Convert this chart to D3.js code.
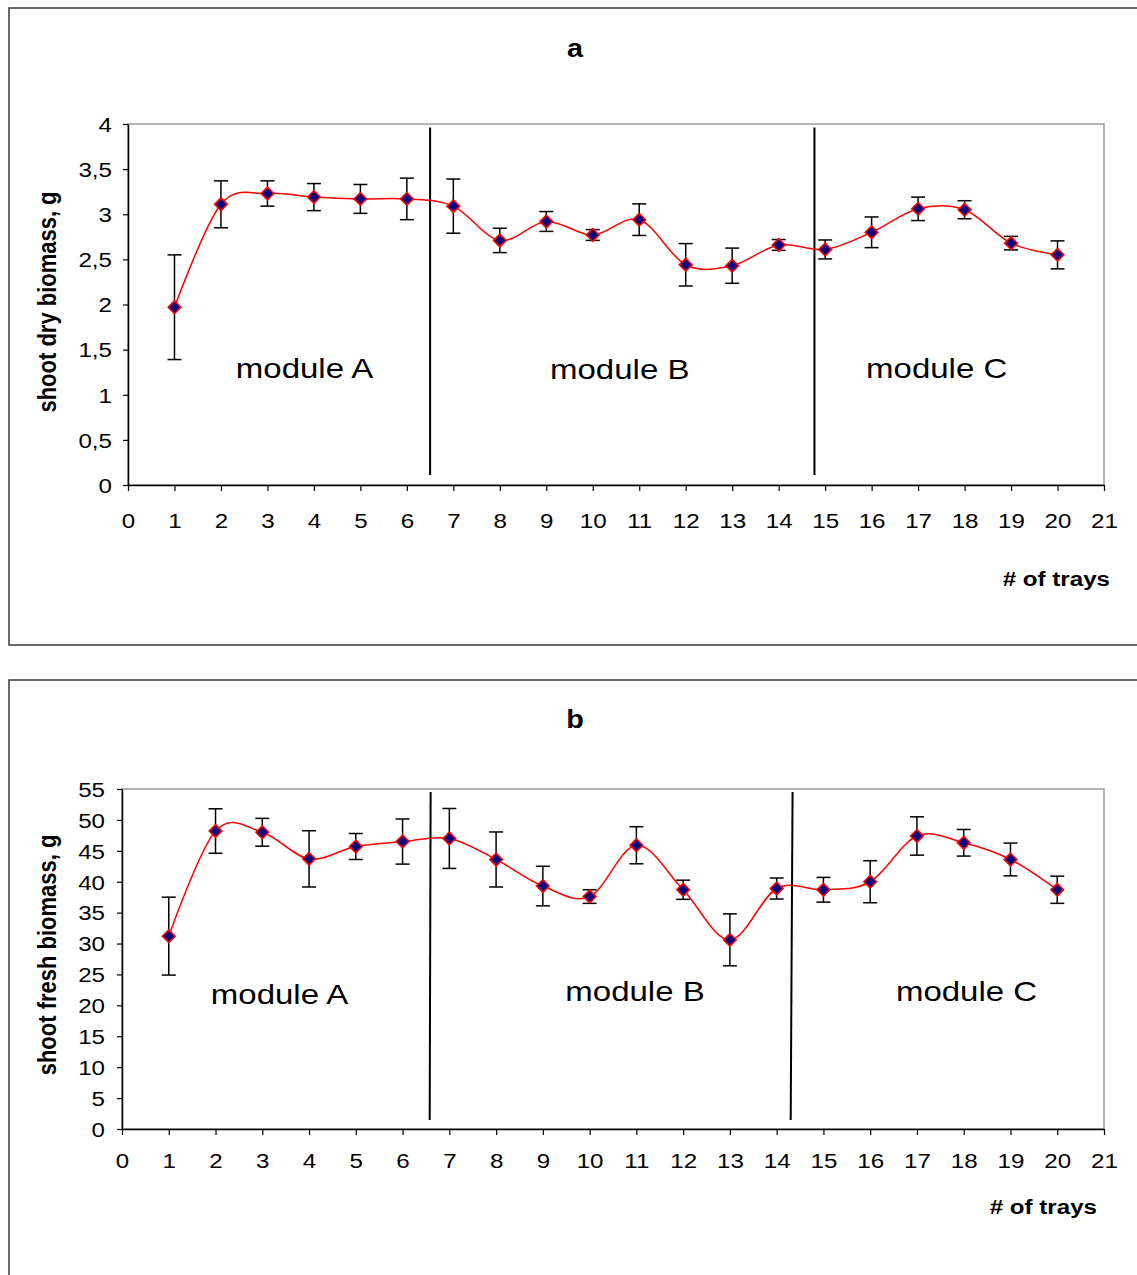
<!DOCTYPE html>
<html>
<head>
<meta charset="utf-8">
<script src="https://cdn.jsdelivr.net/npm/d3@7"></script>
<style>
  html, body { margin: 0; padding: 0; background: #fff; }
  svg { display: block; font-family: "Liberation Sans", Arial, sans-serif; }
</style>
</head>
<body>
<svg id="chart" width="1137" height="1275"></svg>
<script>
// ---- data -------------------------------------------------------------
const trays = [1, 2, 3, 4, 5, 6, 7, 8, 9, 10, 11, 12, 13, 14, 15, 16, 17, 18, 19, 20];

// shoot dry biomass (g): mean and error
const dryMean = [1.97, 3.11, 3.23, 3.19, 3.17, 3.17, 3.09, 2.71, 2.92, 2.77,
                 2.94, 2.44, 2.43, 2.66, 2.61, 2.80, 3.06, 3.05, 2.68, 2.55];
const dryErr  = [0.58, 0.26, 0.14, 0.15, 0.16, 0.23, 0.30, 0.135, 0.11, 0.06,
                 0.175, 0.235, 0.195, 0.06, 0.105, 0.17, 0.13, 0.10, 0.075, 0.155];

// shoot fresh biomass (g): mean and error
const freshMean = [31.2, 48.2, 48.0, 43.7, 45.7, 46.5, 47.0, 43.6, 39.3, 37.6,
                   45.9, 38.7, 30.6, 38.9, 38.7, 40.0, 47.4, 46.3, 43.6, 38.7];
const freshErr  = [6.3, 3.6, 2.25, 4.55, 2.1, 3.65, 4.85, 4.45, 3.2, 1.1,
                   3.0, 1.55, 4.2, 1.7, 2.0, 3.4, 3.1, 2.15, 2.65, 2.2];

// axis ticks
const xTicks = [0, 1, 2, 3, 4, 5, 6, 7, 8, 9, 10, 11, 12, 13, 14, 15, 16, 17, 18, 19, 20, 21];
const xTickLabels = ["0", "1", "2", "3", "4", "5", "6", "7", "8", "9", "10",
                     "11", "12", "13", "14", "15", "16", "17", "18", "19", "20", "21"];
const dryTicks = [0, 0.5, 1, 1.5, 2, 2.5, 3, 3.5, 4];
const dryTickLabels = ["0", "0,5", "1", "1,5", "2", "2,5", "3", "3,5", "4"];
const freshTicks = [0, 5, 10, 15, 20, 25, 30, 35, 40, 45, 50, 55];
const freshTickLabels = ["0", "5", "10", "15", "20", "25", "30", "35", "40", "45", "50", "55"];

// module boundaries (tray position, top and bottom value of each divider)
const dryDividers = [
  { x1: 6.5, x2: 6.5, yTop: 3.96, yBot: 0.11 },
  { x1: 14.77, x2: 14.77, yTop: 3.96, yBot: 0.11 }
];
const freshDividers = [
  { x1: 6.6, x2: 6.58, yTop: 54.5, yBot: 1.45 },
  { x1: 14.34, x2: 14.30, yTop: 54.5, yBot: 1.45 }
];

// module labels, placed at a tray position and a value
const moduleNames = ["module A", "module B", "module C"];
const dryModulePos = [{ x: 3.8, y: 1.19 }, { x: 10.58, y: 1.18 }, { x: 17.4, y: 1.19 }];
const freshModulePos = [{ x: 3.37, y: 20.2 }, { x: 10.97, y: 20.7 }, { x: 18.06, y: 20.7 }];

// ---- drawing ---------------------------------------------------------
const svg = d3.select("#chart");
const SX = 1.15; // horizontal text stretch

function stretch(sel, tx, ty, sx) {
  sel.attr("x", 0).attr("y", 0)
     .attr("transform", `translate(${tx},${ty}) scale(${sx || SX},1)`);
}

function drawPanel(cfg) {
  const g = svg.append("g");

  // outer frame
  g.append("rect")
    .attr("x", cfg.frame.x).attr("y", cfg.frame.y)
    .attr("width", cfg.frame.w).attr("height", cfg.frame.h)
    .attr("fill", "#fff").attr("stroke", "#3a3a3a").attr("stroke-width", 1.5);

  const x = d3.scaleLinear().domain([0, 21]).range([cfg.left, cfg.right]);
  const y = d3.scaleLinear().domain([0, cfg.yMax]).range([cfg.bottom, cfg.top]);

  // plot area border (top/right in grey)
  g.append("rect")
    .attr("x", cfg.left).attr("y", cfg.top)
    .attr("width", cfg.right - cfg.left).attr("height", cfg.bottom - cfg.top)
    .attr("fill", "none").attr("stroke", "#9a9a9a").attr("stroke-width", 1.5);

  // title
  g.append("text")
    .attr("text-anchor", "middle")
    .attr("font-weight", "bold").attr("font-size", 25)
    .text(cfg.title)
    .call(stretch, cfg.titleX, cfg.titleY);

  // y axis
  const yAxis = d3.axisLeft(y).tickValues(cfg.yTicks).tickSize(5).tickSizeOuter(0)
    .tickFormat((d, i) => cfg.yTickLabels[i]);
  const gy = g.append("g").attr("transform", `translate(${cfg.left},0)`).call(yAxis);
  gy.select(".domain").attr("stroke", "#000").attr("stroke-width", 1.5);
  gy.selectAll(".tick line").attr("stroke", "#000").attr("stroke-width", 1.2);
  gy.selectAll(".tick text")
    .attr("font-family", "Liberation Sans, Arial, sans-serif")
    .attr("font-size", 21).attr("fill", "#000")
    .attr("text-anchor", "end").attr("dy", "0.35em")
    .call(stretch, -cfg.yLabelGap, 0);

  // x axis
  const xAxis = d3.axisBottom(x).tickValues(xTicks).tickSize(6).tickSizeOuter(0)
    .tickFormat((d, i) => xTickLabels[i]);
  const gx = g.append("g").attr("transform", `translate(0,${cfg.bottom})`).call(xAxis);
  gx.select(".domain").attr("stroke", "#000").attr("stroke-width", 1.5);
  gx.selectAll(".tick line").attr("stroke", "#000").attr("stroke-width", 1.2);
  gx.selectAll(".tick text")
    .attr("font-family", "Liberation Sans, Arial, sans-serif")
    .attr("font-size", 21).attr("fill", "#000")
    .attr("text-anchor", "middle").attr("dy", "0.72em")
    .call(stretch, 0, cfg.xLabelGap);

  // axis titles
  g.append("text")
    .attr("font-weight", "bold").attr("font-size", 22)
    .attr("text-anchor", "middle")
    .text(cfg.yTitle)
    .attr("transform", `translate(${cfg.yTitleX},${cfg.yTitleY}) scale(${SX},1) rotate(-90)`);

  g.append("text")
    .attr("font-weight", "bold").attr("font-size", 21)
    .attr("text-anchor", "end")
    .text("# of trays")
    .call(stretch, cfg.xTitleX, cfg.xTitleY);

  // module dividers
  g.selectAll(".divider").data(cfg.dividers).join("line")
    .attr("class", "divider")
    .attr("x1", d => x(d.x1)).attr("x2", d => x(d.x2))
    .attr("y1", d => y(d.yTop)).attr("y2", d => y(d.yBot))
    .attr("stroke", "#000").attr("stroke-width", 2);

  // module labels
  g.selectAll(".module").data(cfg.modulePos).join("text")
    .attr("class", "module")
    .attr("font-size", 27.5).attr("text-anchor", "middle").attr("fill", "#000")
    .text((d, i) => moduleNames[i])
    .each(function (d) { d3.select(this).call(stretch, x(d.x), y(d.y), 1.2); });

  const pts = trays.map((t, i) => ({ t, m: cfg.mean[i], e: cfg.err[i] }));

  // error bars
  const eb = g.append("g").attr("stroke", "#000").attr("stroke-width", 1.5);
  const cap = 7;
  eb.selectAll(".stem").data(pts).join("line")
    .attr("x1", d => x(d.t)).attr("x2", d => x(d.t))
    .attr("y1", d => y(d.m + d.e)).attr("y2", d => y(d.m - d.e));
  eb.selectAll(".capTop").data(pts).join("line")
    .attr("x1", d => x(d.t) - cap).attr("x2", d => x(d.t) + cap)
    .attr("y1", d => y(d.m + d.e)).attr("y2", d => y(d.m + d.e));
  eb.selectAll(".capBot").data(pts).join("line")
    .attr("x1", d => x(d.t) - cap).attr("x2", d => x(d.t) + cap)
    .attr("y1", d => y(d.m - d.e)).attr("y2", d => y(d.m - d.e));

  // smoothed line
  const line = d3.line().x(d => x(d.t)).y(d => y(d.m)).curve(d3.curveCardinal.tension(0));
  g.append("path").datum(pts)
    .attr("d", line)
    .attr("fill", "none").attr("stroke", "#ff0000").attr("stroke-width", 1.5);

  // diamond markers
  const diamond = d3.symbol(d3.symbolSquare, 80);
  g.selectAll(".marker").data(pts).join("path")
    .attr("class", "marker")
    .attr("d", diamond)
    .attr("transform", d => `translate(${x(d.t)},${y(d.m)}) rotate(45)`)
    .attr("fill", "#000080").attr("stroke", "#ff0000").attr("stroke-width", 1.6);
}

drawPanel({
  frame: { x: 9, y: 8, w: 1140, h: 637 },
  left: 128, right: 1104, top: 124, bottom: 485,
  yMax: 4, yTicks: dryTicks, yTickLabels: dryTickLabels,
  title: "a", titleX: 575, titleY: 57,
  yLabelGap: 16, xLabelGap: 28,
  yTitle: "shoot dry biomass, g", yTitleX: 56, yTitleY: 302,
  xTitleX: 1110, xTitleY: 586,
  mean: dryMean, err: dryErr,
  dividers: dryDividers, modulePos: dryModulePos
});

drawPanel({
  frame: { x: 9, y: 680, w: 1140, h: 620 },
  left: 122, right: 1104, top: 789, bottom: 1129,
  yMax: 55, yTicks: freshTicks, yTickLabels: freshTickLabels,
  title: "b", titleX: 575, titleY: 728,
  yLabelGap: 17, xLabelGap: 24,
  yTitle: "shoot fresh biomass, g", yTitleX: 56, yTitleY: 955,
  xTitleX: 1097, xTitleY: 1214,
  mean: freshMean, err: freshErr,
  dividers: freshDividers, modulePos: freshModulePos
});
</script>
</body>
</html>
